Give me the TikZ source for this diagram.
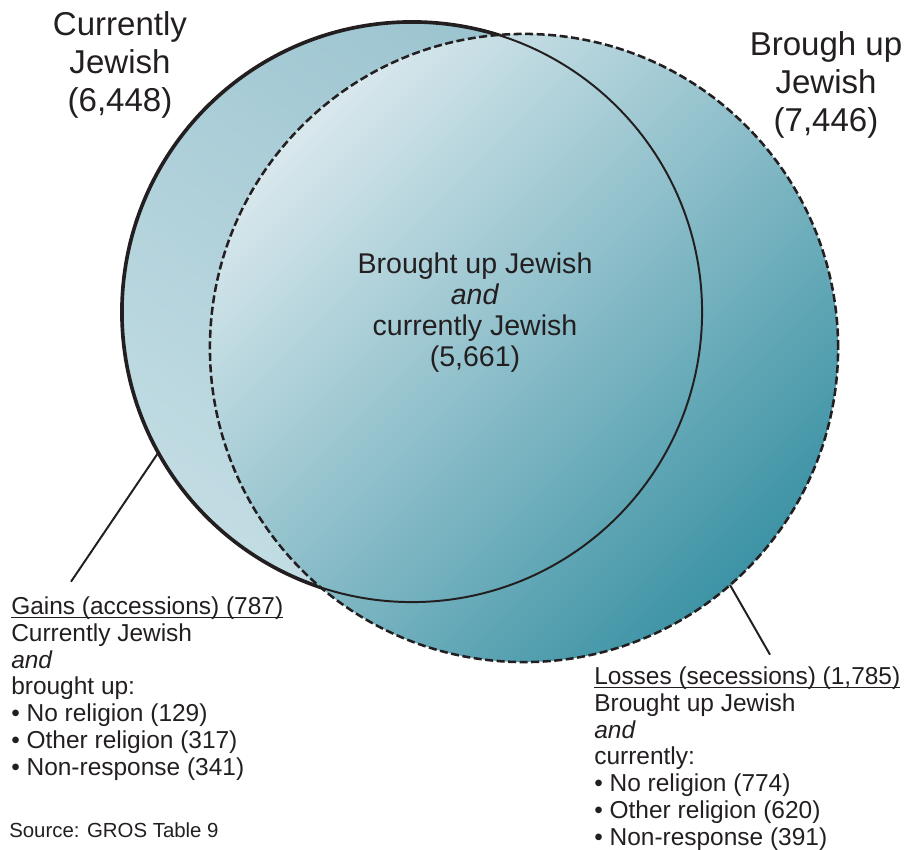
\documentclass[tikz,border=0pt]{standalone}
\usepackage{fontspec}
\setmainfont{Liberation Sans}
\definecolor{inkline}{RGB}{35, 31, 32}
\definecolor{bandtop}{RGB}{154, 195, 207}
\definecolor{bandlow}{RGB}{194, 220, 227}
\definecolor{teallight}{RGB}{217, 232, 237}
\definecolor{tealdark}{RGB}{61, 147, 165}
\usetikzlibrary{positioning, calc}
\newcommand{\notehead}[1]{\setbox0\hbox{#1}\rlap{\rule[-2.2pt]{\wd0}{0.6pt}}\box0}
\tikzset{
    currcircle/.style={
        circle,
        minimum size=14.5cm,
        inner sep=0pt, outer sep=0pt,
        top color=bandtop, bottom color=bandlow, shading angle=-35,
        draw=inkline, line width=2.6pt
    },
    broughtcircle/.style={
        circle,
        minimum size=15.7cm,
        inner sep=0pt, outer sep=0pt,
        top color=teallight, bottom color=tealdark, shading angle=45,
        draw=inkline, line width=1.8pt, dash pattern=on 5.7pt off 2.5pt
    },
    titletext/.style={align=center, inner sep=0pt, text=inkline, font=\fontsize{23.5}{27}\selectfont},
    midtext/.style={align=center, inner sep=0pt, text=inkline, font=\fontsize{20.3}{22}\selectfont},
    notetext/.style={align=left, inner sep=0pt, text=inkline, font=\fontsize{17.4}{19}\selectfont},
    sourcetext/.style={inner sep=0pt, text=inkline, font=\fontsize{14.5}{17}\selectfont},
    leader/.style={draw=inkline, line width=1.4pt}
}

\begin{document}
\begin{tikzpicture}[x=0.025cm, y=-0.025cm]
    \useasboundingbox (0,0) rectangle (911,849);

    \node[currcircle] (curr) at (412,312) {};
    \node[broughtcircle] (brought) at (524,348) {};
    \draw[draw=inkline, line width=1.4pt] (curr.center) circle[radius=7.25cm];

    % multi-line nodes sit on the baseline of their last line
    \node[titletext, anchor=base] (currlabel) at (120,111) {Currently\\Jewish\\(6,448)};
    \node[titletext, anchor=base] (broughtlabel) at (826,131) {Brough up\\Jewish\\(7,446)};
    \node[midtext, anchor=base] (bothlabel) at (475,366) {Brought up Jewish\\\textit{and}\\currently Jewish\\(5,661)};

    \node[notetext, anchor=base west] (gains) at (11,775) {\notehead{Gains (accessions) (787)}\\Currently Jewish\\\textit{and}\\brought up:\\• No religion (129)\\• Other religion (317)\\• Non-response (341)};
    \node[notetext, anchor=base west] (losses) at (594,845) {\notehead{Losses (secessions) (1,785)}\\Brought up Jewish\\\textit{and}\\currently:\\• No religion (774)\\• Other religion (620)\\• Non-response (391)};
    \node[sourcetext, anchor=base west] (source) at (9,837) {Source: GROS Table 9};

    \draw[leader] (curr.209) -- ($(gains.north west)+(60,-15)$);
    \draw[leader] (brought.-49) -- ($(losses.north west)+(176,-12)$);
\end{tikzpicture}
\end{document}
